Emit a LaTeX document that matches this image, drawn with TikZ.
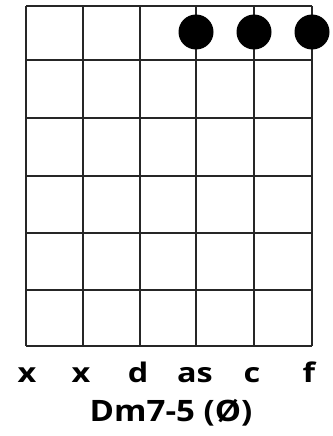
\documentclass[tikz,border=0pt]{standalone}
\usepackage{fontspec}
\setmainfont{Open Sans}
\tikzset{
  fretline/.style={line width=1.8pt, draw=black!85},
  fingerdot/.style={circle, fill=black, minimum size=35pt, inner sep=0pt},
  stringlabel/.style={font=\fontsize{27}{27}\selectfont\bfseries, anchor=base, transform shape, xscale=1.2},
  chordname/.style={font=\fontsize{29.5}{29.5}\selectfont\bfseries, anchor=base, transform shape, xscale=1.12}
}

\begin{document}
\begin{tikzpicture}[x=1pt, y=-1pt]
  \useasboundingbox (0,0) rectangle (332,436);
  % strings
  \foreach \s/\x in {1/26, 2/83, 3/140, 4/196, 5/254, 6/312} {
    \coordinate (top\s) at (\x,6);
    \coordinate (bot\s) at (\x,346);
    \draw[fretline] (top\s) -- (bot\s);
  }
  % frets
  \foreach \f/\y in {0/6, 1/60, 2/118, 3/176, 4/233, 5/290, 6/346} {
    \coordinate (fl\f) at (26,\y);
    \coordinate (fr\f) at (312,\y);
    \draw[fretline] (fl\f) -- (fr\f);
  }
  % fingers
  \node[fingerdot] (dotas) at (196,32) {};
  \node[fingerdot] (dotc) at (254,32) {};
  \node[fingerdot] (dotf) at (312,32) {};
  % string names
  \node[stringlabel] (n1) at (27,382) {x};
  \node[stringlabel] (n2) at (81,382) {x};
  \node[stringlabel] (n3) at (138,382) {d};
  \node[stringlabel] (n4) at (195,382) {as};
  \node[stringlabel] (n5) at (252,382) {c};
  \node[stringlabel] (n6) at (309,382) {f};
  % chord name
  \node[chordname] (name) at (171,421) {Dm7-5 (Ø)};
\end{tikzpicture}
\end{document}
